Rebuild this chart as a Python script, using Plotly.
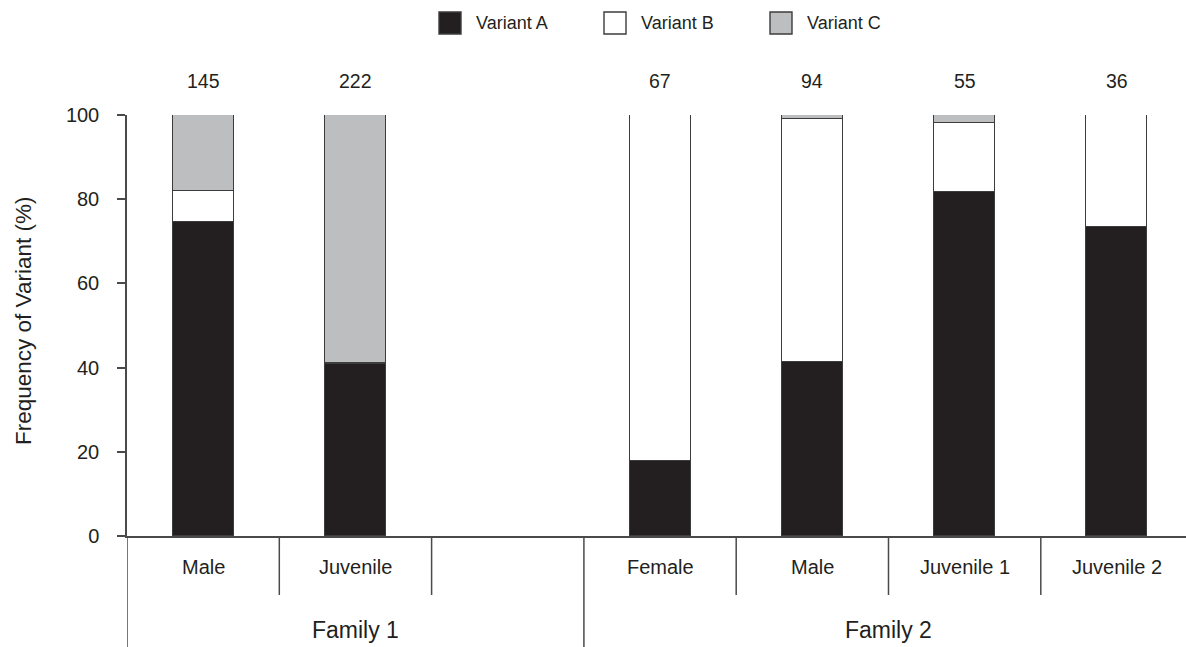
import plotly.graph_objects as go

# Groups along the x axis (one empty slot closes Family 1)
slot_labels = ["Male", "Juvenile", "", "Female", "Male", "Juvenile 1", "Juvenile 2"]
families = ["Family 1", "Family 2"]
family_slots = [[0, 1, 2], [3, 4, 5, 6]]
sample_sizes = ["145", "222", "", "67", "94", "55", "36"]

# Frequency of each variant (%) per group
variant_a = [74.5, 40.8, None, 17.9, 41.3, 81.8, 73.5]
variant_b = [7.5, 0.3, None, 82.1, 57.7, 16.4, 26.5]
variant_c = [18.0, 58.9, None, 0.0, 1.0, 1.8, 0.0]

series = [
    ("Variant A", variant_a, "#231f20"),
    ("Variant B", variant_b, "#ffffff"),
    ("Variant C", variant_c, "#bcbec0"),
]

W, H = 1186, 647
ML, MR, MT, MB = 127, 0, 115, 111
PW, PH = W - ML - MR, H - MT - MB
SLOT_PX = 152.3
TXT = "#231f20"
AX = "#4a4a4a"
FONT = "Liberation Sans, Arial, sans-serif"

xs = list(range(len(slot_labels)))
x_hi = -0.5 + PW / SLOT_PX


def px_x(p):
    return (p - ML) / PW


def px_y(p):
    return (H - MB - p) / PH


def label(x, y, text, size, xref="x", **kw):
    opts = dict(x=x, y=y, xref=xref, yref="paper", text=text, showarrow=False,
                xanchor="center", yanchor="middle",
                font=dict(size=size, color=TXT, family=FONT))
    opts.update(kw)
    return opts


fig = go.Figure()
for name, vals, color in series:
    fig.add_trace(go.Bar(
        x=xs, y=vals, name=name, width=0.4,
        marker=dict(color=color, line=dict(color="#3c3c3c", width=1.4)),
        showlegend=False,
    ))

shapes = []
annotations = []

# Slot dividers below the axis: long ones separate families
family_edges = {fs[0] - 0.5 for fs in family_slots}
for i in range(1, len(slot_labels)):
    edge = i - 0.5
    y_end = px_y(647) if edge in family_edges else px_y(595)
    shapes.append(dict(type="line", xref="x", yref="paper", x0=edge, x1=edge,
                       y0=0, y1=y_end, line=dict(color=AX, width=1.5)))
# Left border continues the y axis down to the bottom
shapes.append(dict(type="line", xref="x", yref="paper", x0=-0.5, x1=-0.5,
                   y0=0, y1=px_y(647), line=dict(color=AX, width=1.5)))

# Group labels and sample sizes
for i, lab in enumerate(slot_labels):
    if lab:
        annotations.append(label(i, px_y(567), lab, 20))
    if sample_sizes[i]:
        annotations.append(label(i, px_y(81), sample_sizes[i], 19.5))

# Family labels, centred under their slots
for fam, slots in zip(families, family_slots):
    cx = (slots[0] + slots[-1]) / 2
    annotations.append(label(cx, px_y(630), fam, 23))

# Y axis title
annotations.append(label(px_x(23), px_y(321), "Frequency of Variant (%)", 22.5,
                         xref="paper", textangle=-90))

# Legend drawn as boxes with labels
legend_x = [439, 604, 770]
for (name, _, color), lx in zip(series, legend_x):
    shapes.append(dict(type="rect", xref="paper", yref="paper",
                       x0=px_x(lx), x1=px_x(lx + 22), y0=px_y(12), y1=px_y(34),
                       fillcolor=color, line=dict(color="#3c3c3c", width=1.4)))
    annotations.append(label(px_x(lx + 35), px_y(23), name, 18, xref="paper",
                             xanchor="left"))

fig.update_layout(
    width=W, height=H,
    margin=dict(l=ML, r=MR, t=MT, b=MB, pad=0),
    barmode="stack",
    plot_bgcolor="white", paper_bgcolor="white",
    font=dict(family=FONT, color=TXT),
    shapes=shapes, annotations=annotations,
    xaxis=dict(range=[-0.5, x_hi], showticklabels=False, ticks="", showgrid=False,
               zeroline=False, showline=True, linecolor=AX, linewidth=1.5, fixedrange=True),
    yaxis=dict(range=[0, 100], tickvals=[0, 20, 40, 60, 80, 100], ticks="outside",
               ticklen=8, tickcolor=AX, tickwidth=1.5, showgrid=False, zeroline=False,
               showline=True, linecolor=AX, linewidth=1.5, ticklabelstandoff=14,
               tickfont=dict(size=20, color=TXT, family=FONT)),
    bargap=0,
)

fig.write_html("out.html")
